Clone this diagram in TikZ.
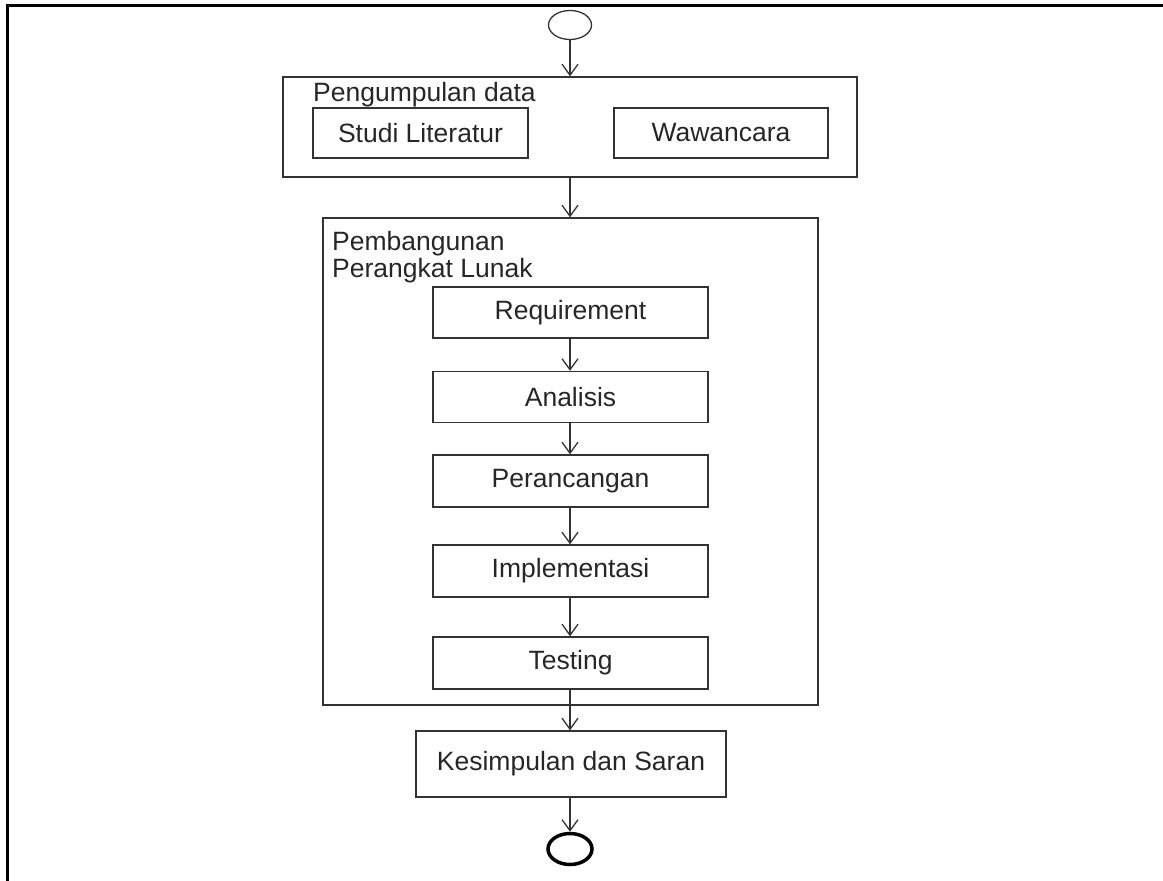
\documentclass[tikz,border=0pt]{standalone}
\usepackage{fontspec}
\setmainfont{Liberation Sans}
\usetikzlibrary{arrows.meta,shapes.geometric}

\tikzset{
  box/.style={draw=black!80,line width=1.4pt,minimum width=275pt,minimum height=51pt,inner sep=0pt,text=black!85},
  grp/.style={box},
  lbl/.style={anchor=base west,inner sep=0pt,text=black!85},
  flow/.style={draw=black!80,line width=1.3pt,-{Straight Barb[length=11pt,width=16pt,line width=1.3pt]}},
}

\begin{document}
\begin{tikzpicture}[x=1pt,y=-1pt,font=\fontsize{26.5}{31}\selectfont]
  \useasboundingbox (0,0) rectangle (1163,881);
  % frame
  \draw[line width=3pt] (7,881) |- (1163,5);

  \node[draw=black!80,line width=1.3pt,ellipse,minimum width=43pt,minimum height=29pt,inner sep=0pt] (mulai) at (570,25) {};

  % pengumpulan data
  \node[grp,minimum width=574pt,minimum height=100pt] (pd) at (570,127) {};
  \node[lbl] (pdlbl) at (313,101) {Pengumpulan data};
  \node[box,minimum width=215pt,minimum height=50pt] (studi) at (420.5,133) {Studi Literatur};
  \node[box,minimum width=214pt,minimum height=50pt] (wawan) at (721,133) {Wawancara};

  % pembangunan perangkat lunak
  \node[grp,minimum width=495pt,minimum height=487pt] (ppl) at (570.5,461.5) {};
  \node[lbl] (ppl1) at (332,250) {Pembangunan};
  \node[lbl] (ppl2) at (332,277) {Perangkat Lunak};

  \node[box] (req) at (570.5,312.5) {Requirement};
  \node[box] (ana) at (570.5,397)   {Analisis};
  \node[box,minimum height=52pt] (per) at (570.5,481) {Perancangan};
  \node[box,minimum height=52pt] (imp) at (570.5,571) {Implementasi};
  \node[box,minimum height=52pt] (tes) at (570.5,663) {Testing};

  \node[box,minimum width=310pt,minimum height=66pt] (kes) at (571,764) {Kesimpulan dan Saran};

  \node[draw=black,line width=3.5pt,ellipse,minimum width=44pt,minimum height=31pt,inner sep=0pt] (selesai) at (570,849) {};

  \draw[flow] (mulai) -- (pd.north -| mulai);
  \draw[flow] (pd.south -| mulai) -- (ppl.north -| mulai);
  \foreach \x/\y in {req/ana,ana/per,per/imp,imp/tes}{
    \draw[flow] (\x.south -| mulai) -- (\y.north -| mulai);
  }
  \draw[flow] (tes.south -| mulai) -- (kes.north -| mulai);
  \draw[flow] (kes.south -| mulai) -- (selesai.north);
\end{tikzpicture}
\end{document}
